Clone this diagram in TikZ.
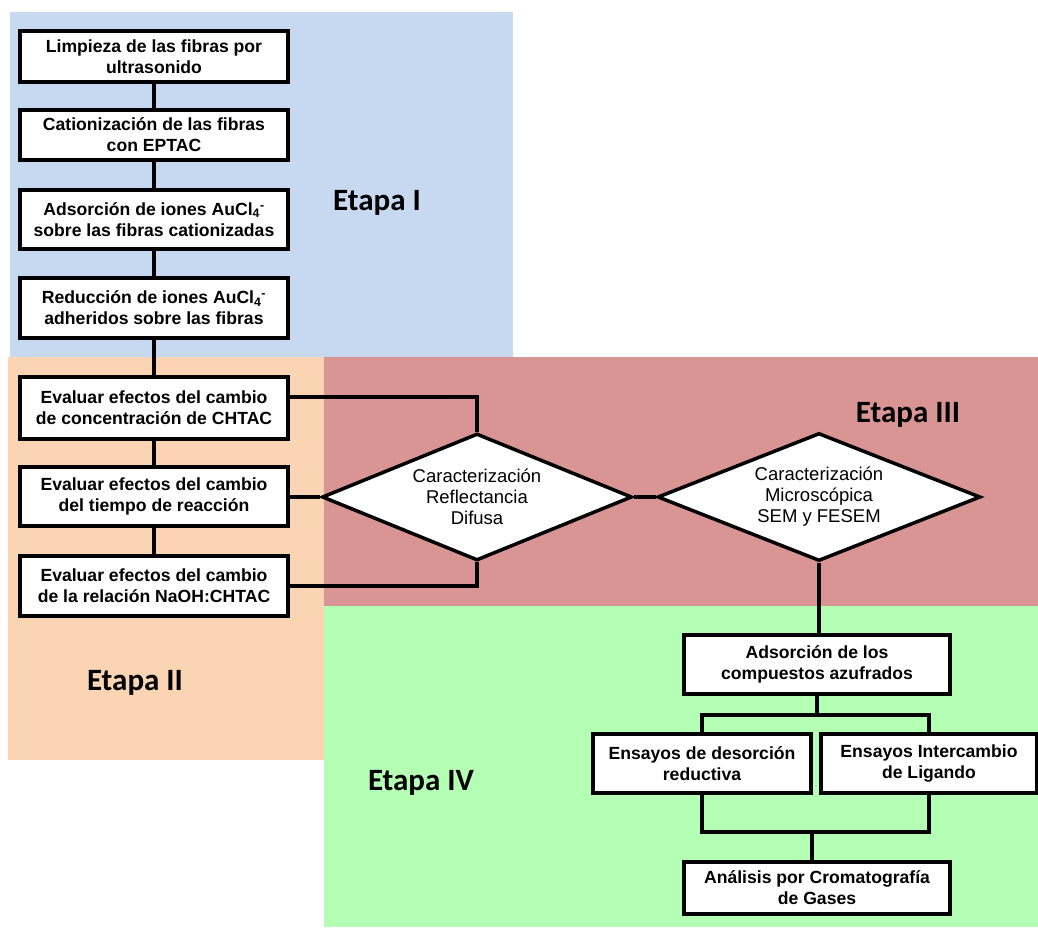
\documentclass[tikz,border=0pt]{standalone}
\usepackage{fontspec}
\setmainfont{Liberation Sans}
\newfontfamily\etapafont{Carlito}
\usetikzlibrary{shapes.geometric,calc}
\definecolor{bgblue}{HTML}{C6D9F0}
\definecolor{bgpeach}{HTML}{FBD4B4}
\definecolor{bgred}{HTML}{D99594}
\definecolor{bggreen}{HTML}{B3FFB3}
\tikzset{
  stepbox/.style={draw=black, fill=white, line width=3.5pt, inner sep=0pt,
    align=center, font=\fontsize{17.6}{21}\selectfont\bfseries},
  decis/.style={draw=black, fill=white, line width=3.5pt, diamond, aspect=2.45,
    inner sep=0pt, align=center, font=\fontsize{18.5}{21}\selectfont},
  conn/.style={draw=black, line width=3.5pt, line join=miter},
  etapa/.style={font=\etapafont\fontsize{31}{33}\selectfont\bfseries, anchor=base, inner sep=0pt}
}
\newcommand{\aucl}{AuCl\textsubscript{4}\textsuperscript{-}}
\begin{document}
\begin{tikzpicture}[x=1pt,y=-1pt]
\useasboundingbox (0,0) rectangle (1038,927);
% backgrounds
\fill[bgblue] (10,12) rectangle (513,357);
\fill[bgpeach] (8,357) rectangle (324,760);
\fill[bgred] (324,357) rectangle (1038,606);
\fill[bggreen] (324,606) rectangle (1038,927);
% stage labels
\node[etapa] (e1) at (377,210) {Etapa I};
\node[etapa] (e2) at (135,690) {Etapa II};
\node[etapa] (e3) at (908,422.5) {Etapa III};
\node[etapa] (e4) at (421,790) {Etapa IV};
% stage I boxes
\node[stepbox, minimum width=268, minimum height=51] (b1) at (154,56.5) {Limpieza de las fibras por\\ultrasonido};
\node[stepbox, minimum width=268, minimum height=50] (b2) at (154,135) {Cationización de las fibras\\con EPTAC};
\node[stepbox, minimum width=268, minimum height=59] (b3) at (154,219.5) {Adsorción de iones \aucl\\sobre las fibras cationizadas};
\node[stepbox, minimum width=268, minimum height=60] (b4) at (154,308) {Reducción de iones \aucl\\adheridos sobre las fibras};
% stage II boxes
\node[stepbox, minimum width=268, minimum height=62] (b5) at (154,408) {Evaluar efectos del cambio\\de concentración de CHTAC};
\node[stepbox, minimum width=268, minimum height=59] (b6) at (154,496.5) {Evaluar efectos del cambio\\del tiempo de reacción};
\node[stepbox, minimum width=268, minimum height=60] (b7) at (154,586) {Evaluar efectos del cambio\\de la relación NaOH:CHTAC};
% stage III diamonds
\node[decis, minimum width=310, minimum height=127] (d1) at (477,497) {Caracterización\\Reflectancia\\Difusa};
\node[decis, minimum width=323, minimum height=128] (d2) at (819,497) {Caracterización\\Microscópica\\SEM y FESEM};
% stage IV boxes
\node[stepbox, minimum width=266, minimum height=59] (a1) at (817,664.5) {Adsorción de los\\compuestos azufrados};
\node[stepbox, minimum width=218, minimum height=59] (a2) at (702,763.5) {Ensayos de desorción\\reductiva};
\node[stepbox, minimum width=216, minimum height=59] (a3) at (929,763.5) {Ensayos Intercambio\\de Ligando};
\node[stepbox, minimum width=266, minimum height=52] (a4) at (817,888) {Análisis por Cromatografía\\de Gases};
% helper coordinates
\coordinate (y5) at (0,397);
\coordinate (br) at (0,715);
\coordinate (jn) at (812,832);
% connectors
\draw[conn] (b1) -- (b2);
\draw[conn] (b2) -- (b3);
\draw[conn] (b3) -- (b4);
\draw[conn] (b4) -- (b5);
\draw[conn] (b5) -- (b6);
\draw[conn] (b6) -- (b7);
\draw[conn] (b5.east |- y5) -| (d1.north);
\draw[conn] (b6.east |- d1.west) -- (d1.west);
\draw[conn] (b7.east) -| (d1.south);
\draw[conn] (d1.east) -- (d2.west);
\draw[conn] (d2.south) -- (a1.north -| d2.south);
\draw[conn] (a1.south) -- (a1.south |- br);
\draw[conn] (a2.north) -- (a2.north |- br) -- (a3.north |- br) -- (a3.north);
\draw[conn] (a2.south) -- (a2.south |- jn) -- (a3.south |- jn) -- (a3.south);
\draw[conn] (jn) -- (jn |- a4.north);
\end{tikzpicture}
\end{document}
